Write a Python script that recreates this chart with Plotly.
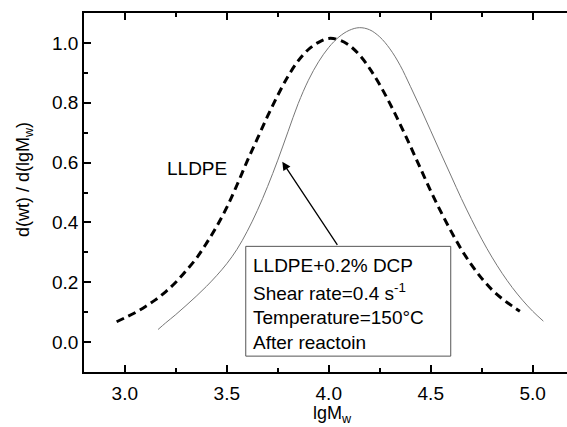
import plotly.graph_objects as go

# LLDPE (dashed curve)
x_lldpe = [2.96, 3.00, 3.05, 3.10, 3.15, 3.20, 3.25, 3.30, 3.35, 3.40, 3.45, 3.50, 3.55, 3.60,
           3.65, 3.70, 3.75, 3.80, 3.85, 3.90, 3.95, 4.00, 4.05, 4.10, 4.15, 4.20, 4.25, 4.30,
           4.35, 4.40, 4.45, 4.50, 4.55, 4.60, 4.65, 4.70, 4.75, 4.80, 4.85, 4.90, 4.937]
y_lldpe = [0.068, 0.081, 0.098, 0.118, 0.141, 0.168, 0.200, 0.238, 0.279, 0.330, 0.386, 0.450,
           0.525, 0.605, 0.680, 0.755, 0.825, 0.888, 0.940, 0.978, 1.002, 1.015, 1.010, 0.992,
           0.960, 0.915, 0.860, 0.797, 0.728, 0.655, 0.580, 0.505, 0.435, 0.370, 0.310, 0.258,
           0.213, 0.175, 0.145, 0.120, 0.103]

# LLDPE + 0.2% DCP after reaction (thin solid curve)
x_dcp = [3.163, 3.20, 3.25, 3.30, 3.35, 3.40, 3.45, 3.50, 3.55, 3.60, 3.65, 3.70, 3.75, 3.80,
         3.85, 3.90, 3.95, 4.00, 4.05, 4.10, 4.15, 4.20, 4.25, 4.30, 4.35, 4.40, 4.45, 4.50,
         4.55, 4.60, 4.65, 4.70, 4.75, 4.80, 4.85, 4.90, 4.95, 5.00, 5.052]
y_dcp = [0.042, 0.064, 0.092, 0.122, 0.153, 0.186, 0.222, 0.262, 0.310, 0.370, 0.440, 0.520,
         0.608, 0.703, 0.797, 0.875, 0.937, 0.985, 1.020, 1.042, 1.051, 1.044, 1.020, 0.980,
         0.925, 0.855, 0.782, 0.706, 0.630, 0.555, 0.480, 0.410, 0.344, 0.284, 0.230, 0.182,
         0.140, 0.103, 0.070]

x_ticks = [3.0, 3.5, 4.0, 4.5, 5.0]
y_ticks = [0.0, 0.2, 0.4, 0.6, 0.8, 1.0]

box_lines = ["LLDPE+0.2% DCP", "Shear rate=0.4 s<sup>-1</sup>", "Temperature=150°C", "After reactoin"]

FONT = "Arial, Liberation Sans, sans-serif"

fig = go.Figure()
fig.add_trace(go.Scatter(x=x_lldpe, y=y_lldpe, mode="lines",
                         line=dict(color="black", width=3, dash="8px,5px", shape="spline", smoothing=1),
                         showlegend=False))
fig.add_trace(go.Scatter(x=x_dcp, y=y_dcp, mode="lines",
                         line=dict(color="#777777", width=1, shape="spline", smoothing=1),
                         showlegend=False))

# Box
fig.add_shape(type="rect", xref="x", yref="y", x0=3.593, x1=4.598, y0=-0.047, y1=0.32,
              line=dict(color="#555555", width=1), fillcolor="white", layer="above")
line_y = [0.255, 0.168, 0.082, 0.0]
for t, yy in zip(box_lines, line_y):
    fig.add_annotation(x=3.618, y=yy, xref="x", yref="y", text=t, showarrow=False,
                       xanchor="left", yanchor="middle", font=dict(size=19, color="black", family=FONT))

# Arrow
fig.add_annotation(x=3.772, y=0.603, ax=4.047, ay=0.32, xref="x", yref="y", axref="x", ayref="y",
                   text="", showarrow=True, arrowhead=2, arrowsize=1.3, arrowwidth=1.3, arrowcolor="black")

fig.add_annotation(x=3.356, y=0.579, xref="x", yref="y", text="LLDPE", showarrow=False,
                   font=dict(size=19, color="black", family=FONT))

# Axis titles
fig.add_annotation(x=(24 - 84) / 483, y=(372 - 180) / 359, xref="paper", yref="paper",
                   text="d(wt) / d(lgM<sub>w</sub>)", textangle=-90, showarrow=False,
                   font=dict(size=18, color="black", family=FONT), xanchor="center", yanchor="middle")
fig.add_annotation(x=4.02, y=(372 - 414) / 359, xref="x", yref="paper", text="lgM<sub>w</sub>",
                   showarrow=False, font=dict(size=18, color="black", family=FONT), yanchor="middle")

fig.update_layout(
    width=567, height=427,
    margin=dict(l=84, r=0, t=13, b=55),
    paper_bgcolor="white", plot_bgcolor="white",
    font=dict(family=FONT, size=19, color="black"),
    xaxis=dict(range=[2.8, 5.168], tickvals=x_ticks, ticktext=[f"{v:.1f}" for v in x_ticks],
               ticks="inside", ticklen=7, tickwidth=1.5, tickcolor="black",
               showline=True, linecolor="black", linewidth=1.5, mirror="ticks",
               showgrid=False, zeroline=False, ticklabelstandoff=3,
               minor=dict(dtick=0.25, tick0=2.75, ticks="inside", ticklen=4, tickwidth=1.5, tickcolor="black")),
    yaxis=dict(range=[-0.1, 1.1], tickvals=y_ticks, ticktext=[f"{v:.1f}" for v in y_ticks],
               ticks="inside", ticklen=7, tickwidth=1.5, tickcolor="black",
               showline=True, linecolor="black", linewidth=1.5, mirror=False,
               showgrid=False, zeroline=False,
               minor=dict(dtick=0.1, tick0=0.1, ticks="inside", ticklen=4, tickwidth=1.5, tickcolor="black")),
)

fig.write_html("out.html")
